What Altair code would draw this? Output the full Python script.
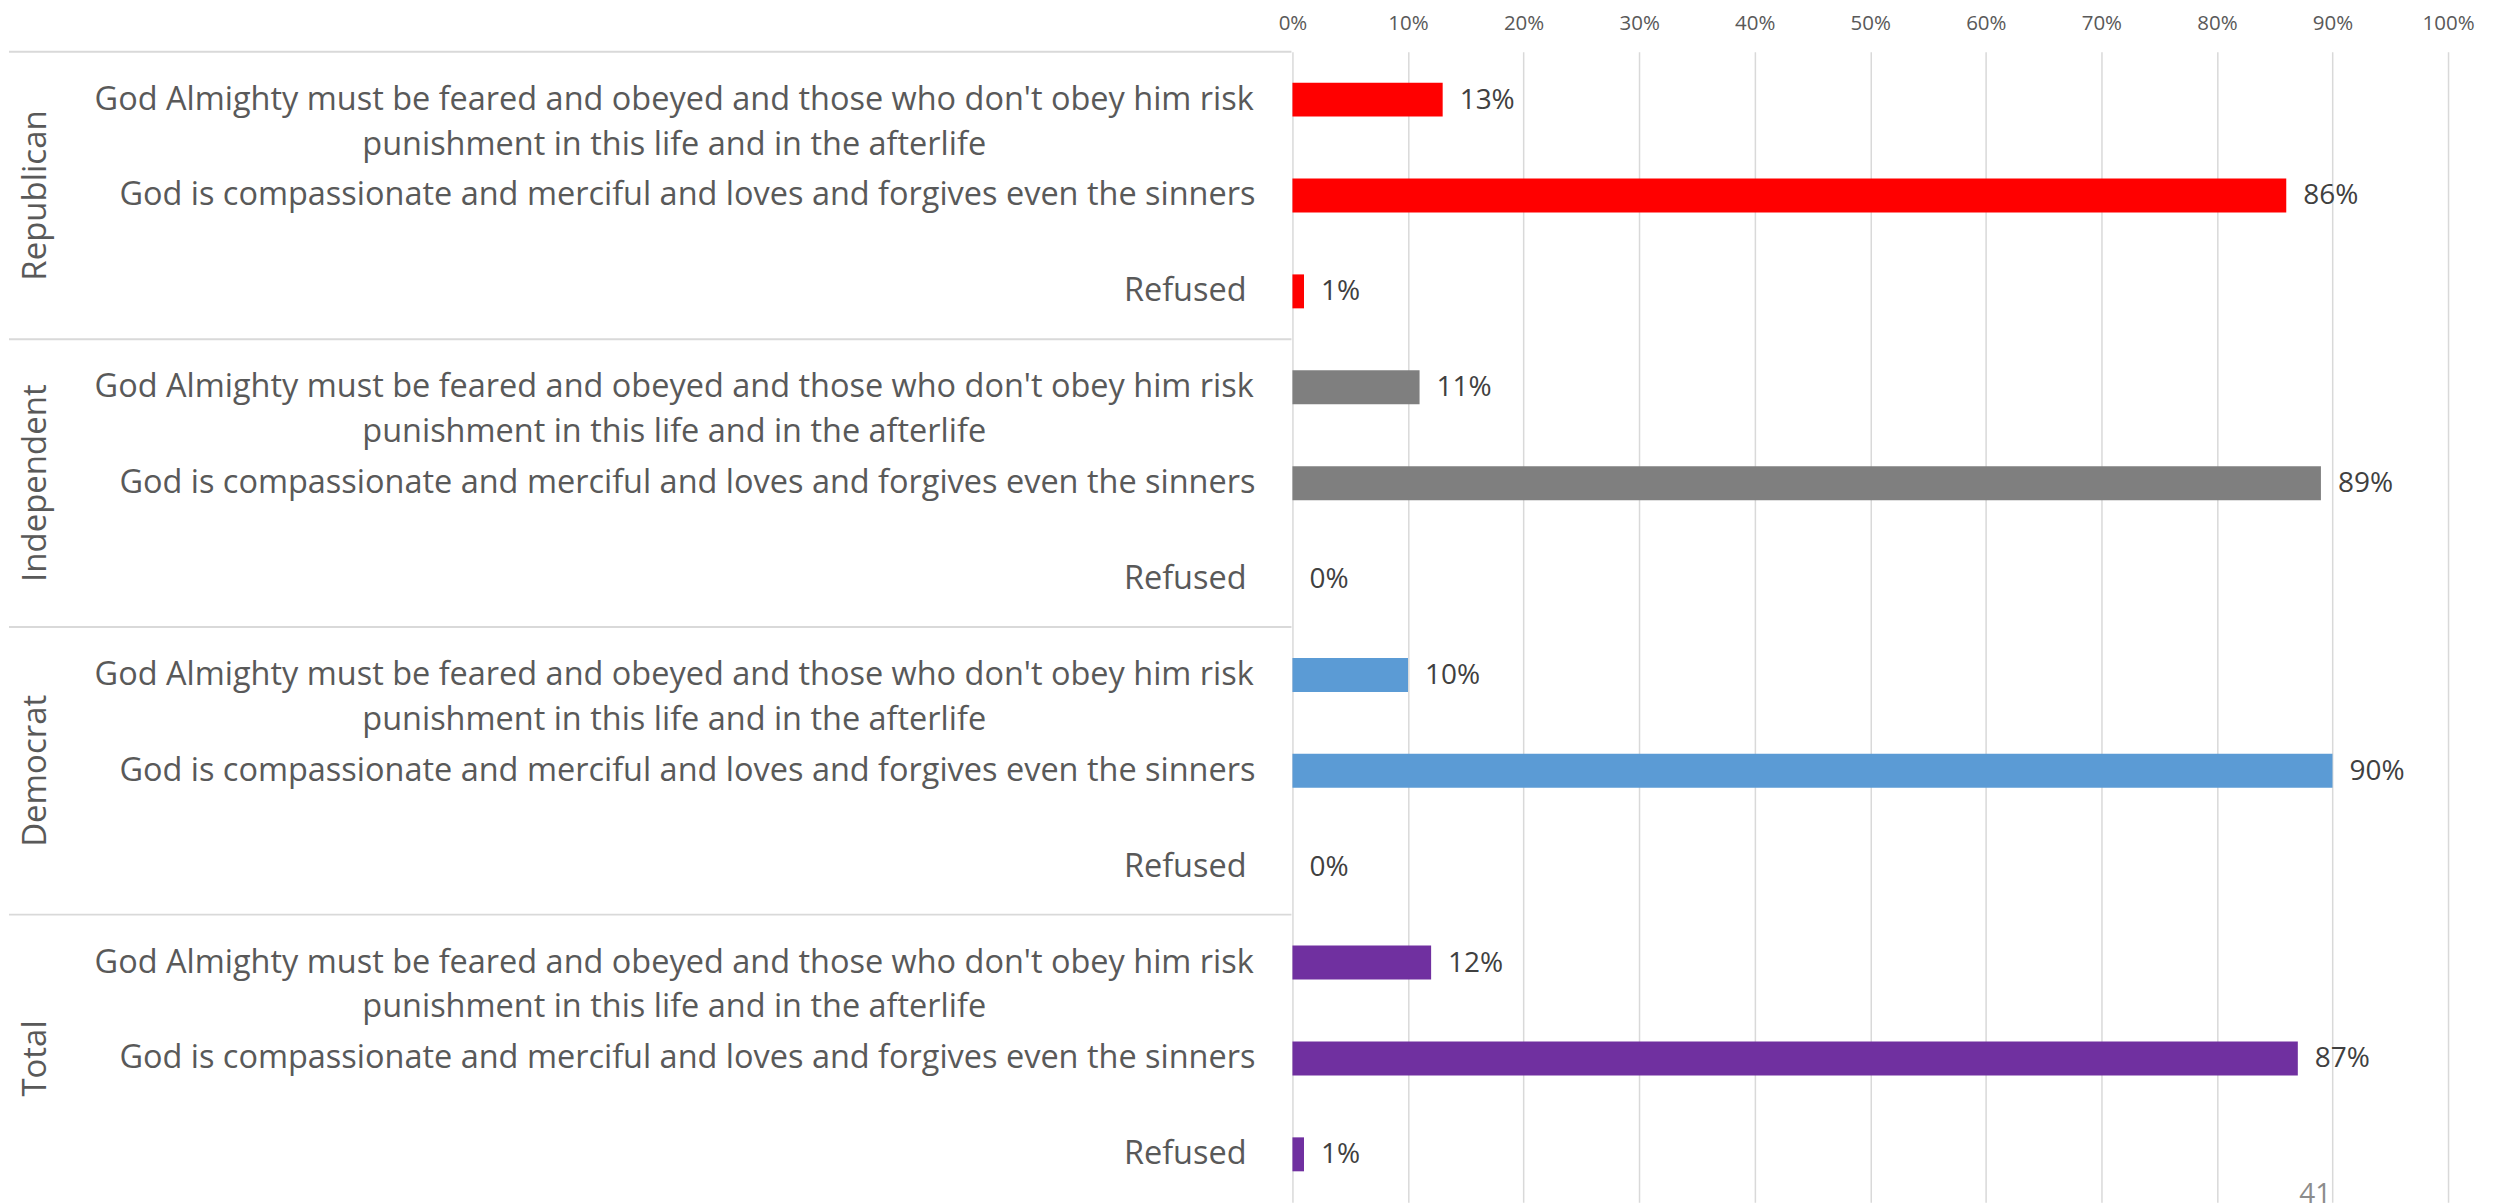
import altair as alt
import pandas as pd

# ---- data ----
groups = ["Republican", "Independent", "Democrat", "Total"]
answers = [
    "God Almighty must be feared and obeyed and those who don't obey him risk\npunishment in this life and in the afterlife",
    "God is compassionate and merciful and loves and forgives even the sinners",
    "Refused",
]
republican = [13, 86, 1]
independent = [11, 89, 0]
democrat = [10, 90, 0]
total = [12, 87, 1]
group_colors = ["#FF0000", "#7F7F7F", "#5B9BD5", "#7030A0"]
tick_values = [0, 0.1, 0.2, 0.3, 0.4, 0.5, 0.6, 0.7, 0.8, 0.9, 1.0]
page_number = ["41"]

series = [republican, independent, democrat, total]
rows = []
for gi, (g, vals) in enumerate(zip(groups, series)):
    for ai, (a, v) in enumerate(zip(answers, vals)):
        rows.append({
            "row": f"g{gi}a{ai}",
            "group": g,
            "answer": a,
            "aidx": ai,
            "value": v / 100.0,
            "label": f"{v}%",
        })
df = pd.DataFrame(rows)

FONT = "Open Sans"
TEXT_GRAY = "#595959"
GRID = "#D9D9D9"

base = alt.Chart(df)
y_enc = alt.Y("row:O", axis=None, scale=alt.Scale(paddingInner=0, paddingOuter=0))
color_enc = alt.Color("group:N", scale=alt.Scale(domain=groups, range=group_colors), legend=None)

bars = base.mark_bar(size=34).encode(
    x=alt.X(
        "value:Q",
        scale=alt.Scale(domain=[0, 1], nice=False),
        axis=alt.Axis(
            orient="top", format=".0%", values=tick_values, title=None,
            domain=False, ticks=False, tickSize=0, labelPadding=18.5,
            labelFlush=False, labelOverlap=False,
            labelFontSize=20.5, labelColor=TEXT_GRAY, labelFont=FONT,
            grid=True, gridColor=GRID, gridWidth=1.5,
        ),
    ),
    y=y_enc,
    color=color_enc,
)

values_text = base.mark_text(
    align="left", baseline="middle", dx=17, dy=1, fontSize=28, font=FONT, color="#404040"
).encode(x="value:Q", y=y_enc, text="label:N")

label_two_line = base.transform_filter("datum.aidx == 0").mark_text(
    align="center", baseline="middle", lineBreak="\n", lineHeight=45,
    fontSize=32.5, font=FONT, color=TEXT_GRAY,
).encode(x=alt.value(-619), y=y_enc, text="answer:N")

label_one_line = base.transform_filter("datum.aidx == 1").mark_text(
    align="right", baseline="middle", fontSize=32.5, font=FONT, color=TEXT_GRAY,
).encode(x=alt.value(-37), y=y_enc, text="answer:N")

label_refused = base.transform_filter("datum.aidx == 2").mark_text(
    align="right", baseline="middle", fontSize=32.5, font=FONT, color=TEXT_GRAY,
).encode(x=alt.value(-46), y=y_enc, text="answer:N")

group_labels = base.transform_filter("datum.aidx == 1").mark_text(
    align="center", baseline="middle", angle=270, fontSize=33, font=FONT, color=TEXT_GRAY,
).encode(x=alt.value(-1258), y=y_enc, text="group:N")

separators = base.transform_filter("datum.aidx == 0").mark_rule(
    color=GRID, strokeWidth=2
).encode(
    y=alt.Y("row:O", axis=None, bandPosition=0, scale=alt.Scale(paddingInner=0, paddingOuter=0)),
    x=alt.value(-1285), x2=alt.value(-1),
)

page = alt.Chart(pd.DataFrame({"p": page_number})).mark_text(
    align="left", baseline="top", fontSize=28, font=FONT, color="#8C8C8C"
).encode(x=alt.value(1008), y=alt.value(1131), text="p:N")

chart = alt.layer(
    bars, separators, values_text, label_two_line, label_one_line, label_refused, group_labels, page
).properties(
    width=1157, height=1152,
    padding={"left": 1286, "top": 43, "right": 40, "bottom": 0},
    autosize="none",
).configure_view(stroke=None)

chart.save("out.html", embed_options={"renderer": "svg", "actions": False})
